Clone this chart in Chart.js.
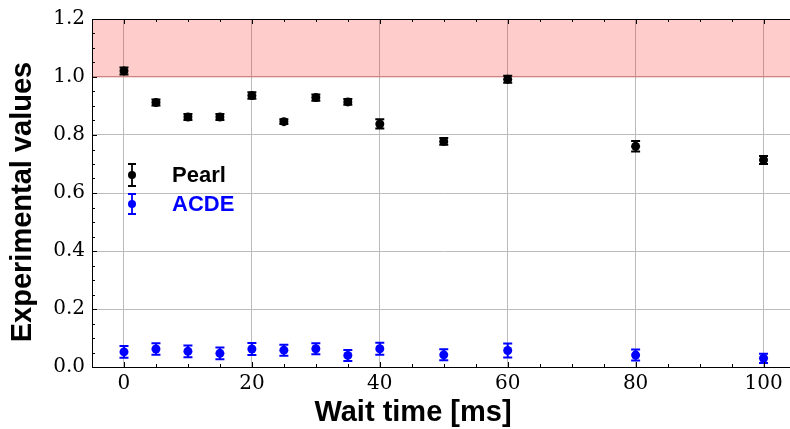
<!DOCTYPE html>
<html>
<head>
<meta charset="utf-8">
<script src="https://cdn.jsdelivr.net/npm/chart.js@4.4.0/dist/chart.umd.min.js"></script>
<style>
  html, body { margin: 0; padding: 0; background: #fff; overflow: hidden; }
  #wrap { width: 790px; height: 429px; overflow: hidden; }
</style>
</head>
<body>
<div id="wrap"><canvas id="chart" width="800" height="429"></canvas></div>
<script>
// values
const waitTimes = [0, 5, 10, 15, 20, 25, 30, 35, 40, 50, 60, 80, 100];
const pearlValues = [1.021, 0.912, 0.862, 0.862, 0.936, 0.846, 0.929, 0.914, 0.838, 0.778, 0.992, 0.761, 0.714];
const pearlErrors = [0.012, 0.010, 0.010, 0.010, 0.011, 0.008, 0.011, 0.010, 0.016, 0.012, 0.012, 0.018, 0.014];
const acdeValues = [0.052, 0.062, 0.054, 0.047, 0.062, 0.058, 0.063, 0.040, 0.063, 0.042, 0.057, 0.041, 0.030];
const acdeErrors = [0.020, 0.020, 0.020, 0.020, 0.021, 0.019, 0.019, 0.019, 0.021, 0.019, 0.024, 0.019, 0.016];
const xTickValues = [0, 20, 40, 60, 80, 100];
const yTickValues = [0, 0.2, 0.4, 0.6, 0.8, 1.0, 1.2];
const bandRange = [1.0, 1.2];
const seriesNames = ['Pearl', 'ACDE'];
const seriesColors = ['#000000', '#0000ff'];

const toPoints = (vals) => waitTimes.map((t, i) => ({ x: t, y: vals[i] }));

const extras = {
  id: 'extras',
  beforeDatasetsDraw(chart) {
    const { ctx, chartArea: a, scales: { x, y } } = chart;
    ctx.save();
    // shaded band above 1.0
    const yTop = y.getPixelForValue(bandRange[1]);
    const yBot = y.getPixelForValue(bandRange[0]);
    ctx.fillStyle = 'rgba(255,0,0,0.2)';
    ctx.fillRect(a.left, yTop, a.right - a.left, yBot - yTop);
    ctx.strokeStyle = 'rgba(210,60,60,0.25)';
    ctx.lineWidth = 1.5;
    ctx.beginPath();
    ctx.moveTo(a.left, yBot);
    ctx.lineTo(a.right, yBot);
    ctx.stroke();
    // error bars
    chart.data.datasets.forEach(ds => {
      ctx.strokeStyle = ds.borderColor;
      ctx.lineWidth = 2;
      ds.data.forEach((p, i) => {
        const px = x.getPixelForValue(p.x);
        const hi = y.getPixelForValue(p.y + ds.errors[i]);
        const lo = y.getPixelForValue(p.y - ds.errors[i]);
        ctx.beginPath();
        ctx.moveTo(px, hi); ctx.lineTo(px, lo);
        ctx.moveTo(px - 4.5, hi); ctx.lineTo(px + 4.5, hi);
        ctx.moveTo(px - 4.5, lo); ctx.lineTo(px + 4.5, lo);
        ctx.stroke();
      });
    });
    ctx.restore();
  },
  afterDraw(chart) {
    const { ctx, chartArea: a, scales: { x, y } } = chart;
    ctx.save();
    // frame
    ctx.strokeStyle = '#000';
    ctx.lineWidth = 1;
    ctx.strokeRect(Math.round(a.left) + 0.5, Math.round(a.top) + 0.5,
      Math.round(a.right - a.left), Math.round(a.bottom - a.top));
    // inward ticks
    ctx.beginPath();
    for (let v = Math.ceil(x.min / 5) * 5; v <= x.max; v += 5) {
      const px = Math.round(x.getPixelForValue(v)) + 0.5;
      const len = v % 20 === 0 ? 5 : 3;
      ctx.moveTo(px, a.bottom); ctx.lineTo(px, a.bottom - len);
      ctx.moveTo(px, a.top); ctx.lineTo(px, a.top + len);
    }
    for (let i = 0; i <= 24; i++) {
      const py = Math.round(y.getPixelForValue(i * 0.05)) + 0.5;
      const len = i % 4 === 0 ? 5 : 3;
      ctx.moveTo(a.left, py); ctx.lineTo(a.left + len, py);
      ctx.moveTo(a.right, py); ctx.lineTo(a.right - len, py);
    }
    ctx.stroke();

    // legend
    const legendRows = [{ cy: 175, half: 11 }, { cy: 204, half: 10 }];
    chart.data.datasets.forEach((ds, k) => {
      const r = legendRows[k];
      const lx = 132;
      ctx.strokeStyle = ds.borderColor;
      ctx.fillStyle = ds.borderColor;
      ctx.lineWidth = 1.8;
      ctx.beginPath();
      ctx.moveTo(lx, r.cy - r.half); ctx.lineTo(lx, r.cy + r.half);
      ctx.moveTo(lx - 4, r.cy - r.half); ctx.lineTo(lx + 4, r.cy - r.half);
      ctx.moveTo(lx - 4, r.cy + r.half); ctx.lineTo(lx + 4, r.cy + r.half);
      ctx.stroke();
      ctx.beginPath();
      ctx.arc(lx, r.cy, 4, 0, Math.PI * 2);
      ctx.fill();
      ctx.font = 'bold 22px "Liberation Sans", Arial, sans-serif';
      ctx.textAlign = 'left';
      ctx.textBaseline = 'middle';
      ctx.fillText(ds.label, 172, r.cy + 1);
    });

    // axis titles
    ctx.fillStyle = '#000';
    ctx.font = 'bold 29px "Liberation Sans", Arial, sans-serif';
    ctx.textAlign = 'center';
    ctx.textBaseline = 'middle';
    ctx.fillText('Wait time [ms]', 413, 413);
    ctx.translate(23, 202);
    ctx.rotate(-Math.PI / 2);
    ctx.fillText('Experimental values', 0, 0);
    ctx.restore();
  }
};

new Chart(document.getElementById('chart'), {
  type: 'scatter',
  data: {
    datasets: [
      {
        label: seriesNames[0],
        data: toPoints(pearlValues),
        errors: pearlErrors,
        borderColor: seriesColors[0],
        backgroundColor: seriesColors[0],
        pointRadius: 4.5,
        pointHoverRadius: 4.5,
        borderWidth: 0
      },
      {
        label: seriesNames[1],
        data: toPoints(acdeValues),
        errors: acdeErrors,
        borderColor: seriesColors[1],
        backgroundColor: seriesColors[1],
        pointRadius: 4.5,
        pointHoverRadius: 4.5,
        borderWidth: 0
      }
    ]
  },
  options: {
    responsive: false,
    animation: false,
    events: [],
    layout: { padding: { top: 17, right: 3, left: 0, bottom: 0 } },
    plugins: {
      legend: { display: false },
      tooltip: { enabled: false }
    },
    scales: {
      x: {
        type: 'linear',
        min: -5,
        max: 105,
        afterBuildTicks: (scale) => { scale.ticks = xTickValues.map(v => ({ value: v })); },
        afterFit: (scale) => { scale.height = 62; },
        grid: { color: '#bcbcbc', lineWidth: 1, drawTicks: false },
        border: { display: false },
        ticks: {
          padding: 5,
          color: '#000',
          font: { family: '"DejaVu Serif", serif', size: 20 },
          callback: (v) => String(v)
        }
      },
      y: {
        type: 'linear',
        min: 0,
        max: 1.2,
        afterBuildTicks: (scale) => { scale.ticks = yTickValues.map(v => ({ value: v })); },
        afterFit: (scale) => { scale.width = 92; },
        grid: { color: '#bcbcbc', lineWidth: 1, drawTicks: false },
        border: { display: false },
        ticks: {
          padding: 7,
          color: '#000',
          font: { family: '"DejaVu Serif", serif', size: 20 },
          callback: (v) => v.toFixed(1)
        }
      }
    }
  },
  plugins: [extras]
});
</script>
</body>
</html>
